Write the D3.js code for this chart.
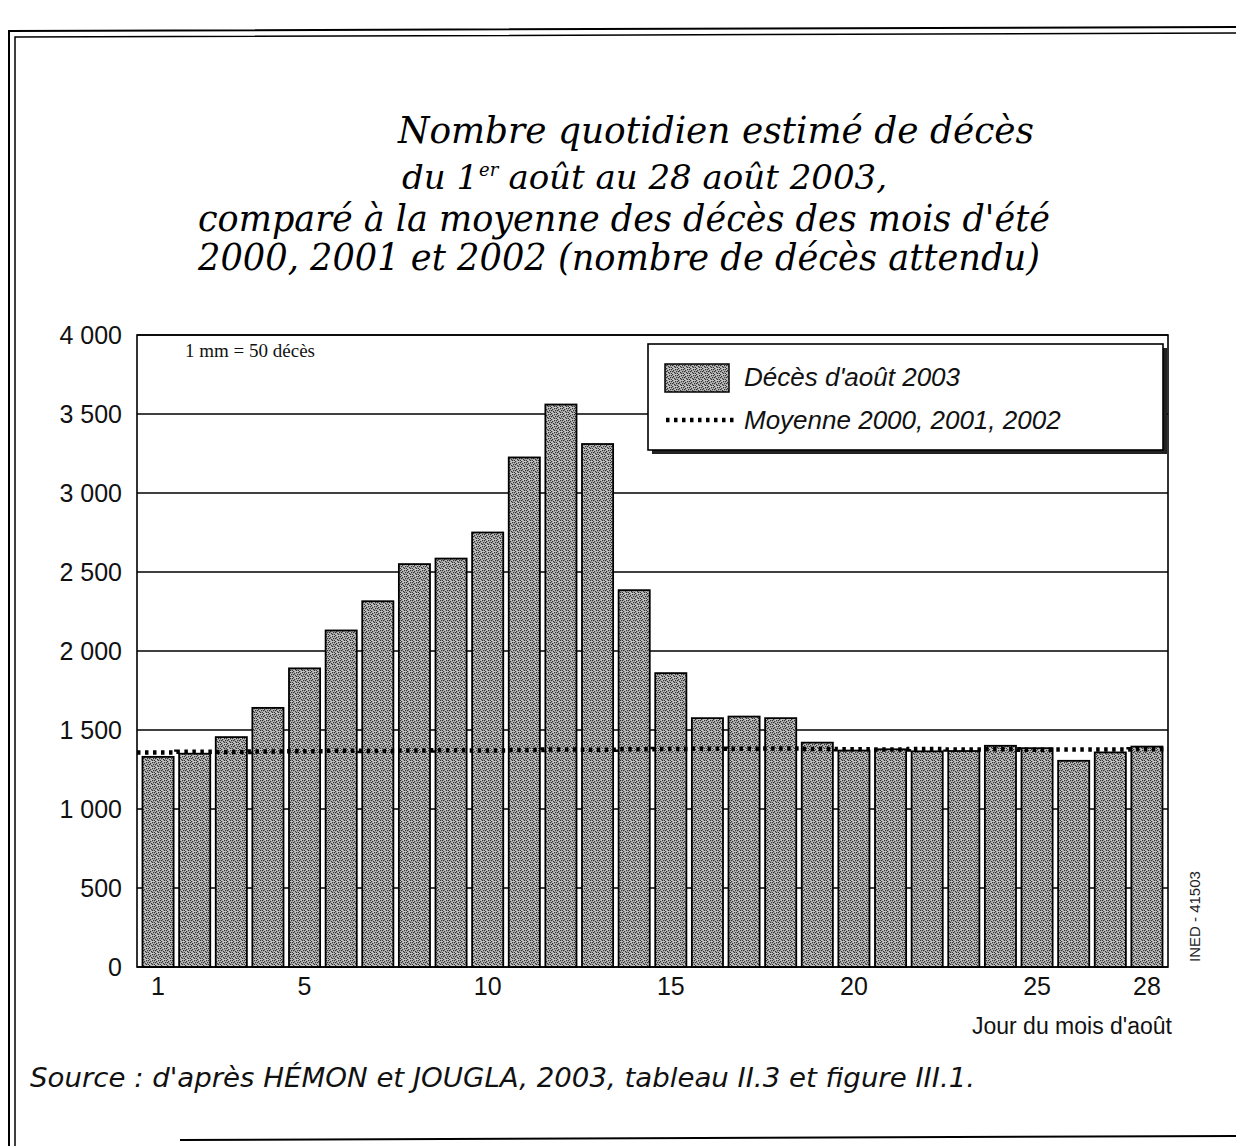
<!DOCTYPE html>
<html>
<head>
<meta charset="utf-8">
<script src="https://cdn.jsdelivr.net/npm/d3@7"></script>
<style>
  html, body { margin: 0; padding: 0; background: #fff; }
  svg { display: block; }
</style>
</head>
<body>
<svg id="chart" width="1236" height="1146"></svg>
<script>
// values
const days = [1, 2, 3, 4, 5, 6, 7, 8, 9, 10, 11, 12, 13, 14, 15, 16, 17, 18, 19, 20, 21, 22, 23, 24, 25, 26, 27, 28];
const deaths2003 = [1330, 1350, 1455, 1640, 1890, 2130, 2315, 2550, 2585, 2750, 3225, 3560, 3310, 2385,
                    1860, 1575, 1585, 1575, 1420, 1370, 1378, 1365, 1367, 1400, 1385, 1305, 1358, 1395];
const average = [1358, 1362, 1360, 1364, 1366, 1368, 1367, 1370, 1372, 1371, 1374, 1376, 1375, 1378,
                 1380, 1382, 1381, 1383, 1380, 1378, 1377, 1379, 1376, 1378, 1375, 1377, 1376, 1378];
const yTicks = [0, 500, 1000, 1500, 2000, 2500, 3000, 3500, 4000];
const xTickDays = [1, 5, 10, 15, 20, 25, 28];
const titleLines = [
  'Nombre quotidien estimé de décès',
  'du 1',
  'comparé à la moyenne des décès des mois d\'été',
  '2000, 2001 et 2002 (nombre de décès attendu)'
];
const legendLabels = ['Décès d\'août 2003', 'Moyenne 2000, 2001, 2002'];

const svg = d3.select('#chart');
const margin = { top: 335, right: 68, bottom: 179, left: 137 };
const width = 1236 - margin.left - margin.right;
const height = 1146 - margin.top - margin.bottom;

// stippled grey fill, like the printed bars
const defs = svg.append('defs');
const pat = defs.append('pattern')
    .attr('id', 'stipple')
    .attr('patternUnits', 'userSpaceOnUse')
    .attr('width', 6).attr('height', 6);
pat.append('rect').attr('width', 6).attr('height', 6).attr('fill', '#c4c4c4');
[[0, 0], [3, 1], [1, 2], [4, 3], [2, 4], [5, 5], [0, 3], [3, 5], [5, 1]].forEach(([px, py]) => {
  pat.append('rect').attr('x', px).attr('y', py).attr('width', 1.3).attr('height', 1.3).attr('fill', '#333');
});

// page frame (double rule left and top)
svg.append('path')
    .attr('d', 'M9,1146 L9,31 L1236,27')
    .attr('fill', 'none').attr('stroke', '#000').attr('stroke-width', 2);
svg.append('path')
    .attr('d', 'M15,1146 L15,37 L1236,33')
    .attr('fill', 'none').attr('stroke', '#000').attr('stroke-width', 1.5);
svg.append('line')
    .attr('x1', 180).attr('y1', 1140).attr('x2', 1236).attr('y2', 1136)
    .attr('stroke', '#000').attr('stroke-width', 2);

// title
const title = svg.append('g')
    .attr('font-family', '"DejaVu Serif", serif')
    .attr('font-style', 'italic')
    .attr('font-size', 37)
    .attr('fill', '#000');
title.append('text').attr('x', 398).attr('y', 143)
    .attr('textLength', 636).attr('lengthAdjust', 'spacingAndGlyphs')
    .text(titleLines[0]);
// second line: the "er" superscript is its own text so nothing is squeezed together
const l2 = title.append('text').attr('x', 402).attr('y', 189)
    .attr('font-size', 34)
    .text(titleLines[1]);
const l2w = l2.node().getComputedTextLength();
const sup = title.append('text').attr('x', 402 + l2w + 1).attr('y', 176)
    .attr('font-size', 18)
    .text('er');
const supw = sup.node().getComputedTextLength();
title.append('text').attr('x', 402 + l2w + supw + 11).attr('y', 189)
    .attr('font-size', 34)
    .text('août au 28 août 2003,');
title.append('text').attr('x', 198).attr('y', 231)
    .attr('textLength', 852).attr('lengthAdjust', 'spacingAndGlyphs')
    .text(titleLines[2]);
title.append('text').attr('x', 198).attr('y', 270)
    .attr('textLength', 842).attr('lengthAdjust', 'spacingAndGlyphs')
    .text(titleLines[3]);

const chart = svg.append('g')
    .attr('transform', `translate(${margin.left},${margin.top})`);

const x = d3.scaleBand()
    .domain(days)
    .range([0, width])
    .paddingInner(0.15)
    .paddingOuter(0.15);

const y = d3.scaleLinear()
    .domain([0, 4000])
    .range([height, 0]);

// horizontal grid, behind the bars
chart.append('g')
    .selectAll('line')
    .data(yTicks)
  .join('line')
    .attr('x1', 0).attr('x2', width)
    .attr('y1', d => y(d)).attr('y2', d => y(d))
    .attr('stroke', '#000').attr('stroke-width', 1.6);

// bars
chart.append('g')
    .selectAll('rect')
    .data(days)
  .join('rect')
    .attr('x', d => x(d))
    .attr('y', (d, i) => y(deaths2003[i]))
    .attr('width', x.bandwidth())
    .attr('height', (d, i) => height - y(deaths2003[i]))
    .attr('fill', 'url(#stipple)')
    .attr('stroke', '#000')
    .attr('stroke-width', 1.8);

// expected deaths: dotted step line across each day
const step = x.step();
const pts = [];
days.forEach((d, i) => {
  const x0 = i === 0 ? 0 : x(d) - step * x.paddingInner() / 2;
  const x1 = i === days.length - 1 ? width : x(d) + x.bandwidth() + step * x.paddingInner() / 2;
  pts.push([x0, average[i]], [x1, average[i]]);
});
chart.append('path')
    .datum(pts)
    .attr('fill', 'none')
    .attr('stroke', '#000')
    .attr('stroke-width', 4.5)
    .attr('stroke-dasharray', '3.5,4.5')
    .attr('d', d3.line().x(p => p[0]).y(p => y(p[1])));

// frame of the plot area
chart.append('rect')
    .attr('width', width).attr('height', height)
    .attr('fill', 'none').attr('stroke', '#000').attr('stroke-width', 1.6);

// y axis labels
const yAxis = d3.axisLeft(y)
    .tickValues(yTicks)
    .tickSize(0)
    .tickPadding(15)
    .tickFormat(d => d3.format(',')(d).replace(',', ' '));
chart.append('g')
    .call(yAxis)
    .call(g => g.select('.domain').remove())
    .call(g => g.selectAll('text')
        .attr('font-family', '"Liberation Sans", Arial, sans-serif')
        .attr('font-size', 25)
        .attr('fill', '#111'));

// x axis labels
const xAxis = d3.axisBottom(x)
    .tickValues(xTickDays)
    .tickSize(0)
    .tickPadding(10);
chart.append('g')
    .attr('transform', `translate(0,${height})`)
    .call(xAxis)
    .call(g => g.select('.domain').remove())
    .call(g => g.selectAll('text')
        .attr('font-family', '"Liberation Sans", Arial, sans-serif')
        .attr('font-size', 25)
        .attr('fill', '#111'));

chart.append('text')
    .attr('x', width + 4).attr('y', height + 67)
    .attr('text-anchor', 'end')
    .attr('font-family', '"Liberation Sans", Arial, sans-serif')
    .attr('font-size', 23)
    .attr('fill', '#111')
    .text('Jour du mois d\'août');

chart.append('text')
    .attr('x', 48).attr('y', 22)
    .attr('font-family', '"Liberation Serif", "Times New Roman", serif')
    .attr('font-size', 19)
    .attr('fill', '#111')
    .text('1 mm = 50 décès');

// side reference code
svg.append('text')
    .attr('transform', 'translate(1200,962) rotate(-90)')
    .attr('font-family', '"Liberation Sans", Arial, sans-serif')
    .attr('font-size', 15)
    .attr('fill', '#222')
    .text('INED - 41503');

// legend
const legend = svg.append('g').attr('transform', 'translate(648,344)');
legend.append('rect')
    .attr('x', 4).attr('y', 4).attr('width', 515).attr('height', 106)
    .attr('fill', '#222');
legend.append('rect')
    .attr('width', 515).attr('height', 106)
    .attr('fill', '#fff').attr('stroke', '#000').attr('stroke-width', 1.6);
legend.append('rect')
    .attr('x', 17).attr('y', 20).attr('width', 64).attr('height', 28)
    .attr('fill', 'url(#stipple)').attr('stroke', '#000').attr('stroke-width', 1.5);
legend.append('line')
    .attr('x1', 18).attr('x2', 86).attr('y1', 76).attr('y2', 76)
    .attr('stroke', '#000').attr('stroke-width', 4.5).attr('stroke-dasharray', '3.5,4.5');
legend.selectAll('text.lab')
    .data(legendLabels)
  .join('text')
    .attr('class', 'lab')
    .attr('x', 96)
    .attr('y', (d, i) => 42 + i * 43)
    .attr('font-family', '"Liberation Sans", Arial, sans-serif')
    .attr('font-style', 'italic')
    .attr('font-size', 26)
    .attr('fill', '#111')
    .text(d => d);

// source line
svg.append('text')
    .attr('x', 30).attr('y', 1087)
    .attr('textLength', 945).attr('lengthAdjust', 'spacingAndGlyphs')
    .attr('font-family', '"DejaVu Sans", sans-serif')
    .attr('font-style', 'italic')
    .attr('font-size', 26)
    .attr('fill', '#111')
    .text('Source : d\'après HÉMON et JOUGLA, 2003, tableau II.3 et figure III.1.');
</script>
</body>
</html>
